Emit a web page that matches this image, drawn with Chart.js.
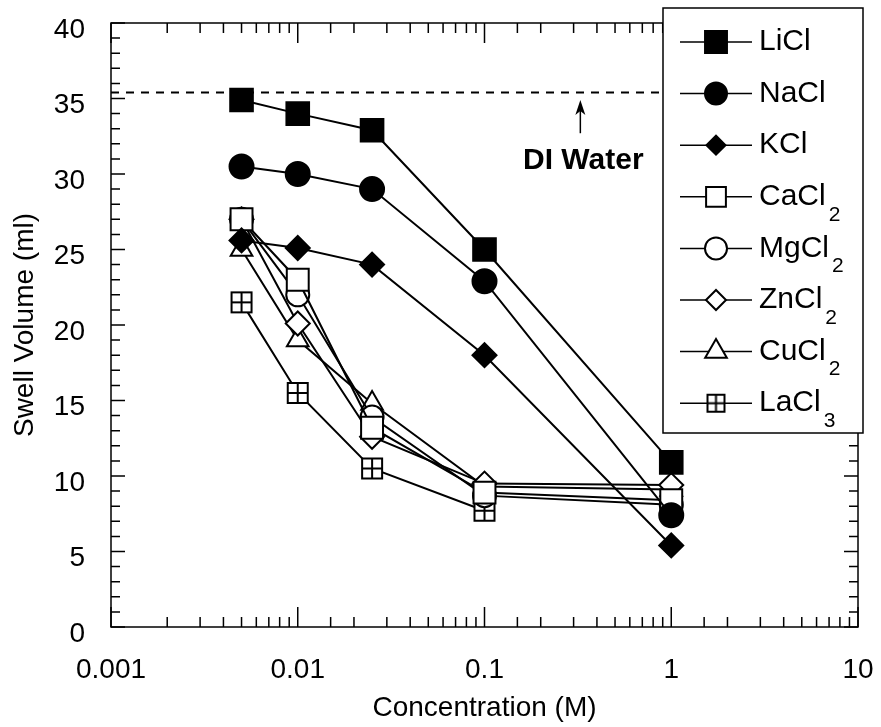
<!DOCTYPE html>
<html>
<head>
<meta charset="utf-8">
<script src="https://cdn.jsdelivr.net/npm/chart.js@4.4.0/dist/chart.umd.min.js"></script>
<style>
  body { margin: 0; background: #fff; }
  #wrap { width: 881px; height: 727px; }
</style>
</head>
<body>
<div id="wrap"><canvas id="swellChart" width="881" height="727"></canvas></div>
<script>
// concentrations (M) on the x axis
const concentrations = [0.005, 0.01, 0.025, 0.1, 1];

// swell volume (ml) per salt
const liCl = [34.9, 34.0, 32.9, 25.0, 10.9];
const naCl = [30.5, 30.0, 29.0, 22.9, 7.4];
const kCl = [25.6, 25.1, 24.0, 18.0, 5.4];
const caCl2 = [27.0, 23.0, 13.2, 8.9, 8.4];
const mgCl2 = [27.0, 22.0, 13.9, 8.7, 8.1];
const znCl2 = [27.0, 20.1, 12.6, 9.5, 9.4];
const cuCl2 = [25.0, 19.0, 14.8, 9.3, 9.1];
const laCl3 = [21.5, 15.5, 10.5, 7.7];

const saltLabels = ['LiCl', 'NaCl', 'KCl', 'CaCl2', 'MgCl2', 'ZnCl2', 'CuCl2', 'LaCl3'];
const xTickLabels = ['0.001', '0.01', '0.1', '1', '10'];

// DI water reference
const diWaterLevel = 35.4;
const diArrowX = 0.326;
const diArrowFrom = 32.7;
const diArrowTo = 34.9;
const diLabelX = 0.338;
const diLabelY = 30.9;

const FONT = "'Liberation Sans', Arial, sans-serif";

// open square with a cross for LaCl3
function makeCrossSquare(side) {
  const cv = document.createElement('canvas');
  cv.width = side + 4;
  cv.height = side + 4;
  const c = cv.getContext('2d');
  const o = 2, m = 2 + side / 2;
  c.fillStyle = '#fff';
  c.fillRect(o, o, side, side);
  c.strokeStyle = '#000';
  c.lineWidth = 2;
  c.strokeRect(o, o, side, side);
  c.beginPath();
  c.moveTo(m, o); c.lineTo(m, o + side);
  c.moveTo(o, m); c.lineTo(o + side, m);
  c.stroke();
  return cv;
}
const crossSquare = makeCrossSquare(20);
const crossSquareSmall = makeCrossSquare(17);

const markerStyles = [
  { pointStyle: 'rect', radius: 16, fill: '#000' },
  { pointStyle: 'circle', radius: 12, fill: '#000' },
  { pointStyle: 'rectRot', radius: 12, fill: '#000' },
  { pointStyle: 'rect', radius: 15.5, fill: '#fff' },
  { pointStyle: 'circle', radius: 11.5, fill: '#fff' },
  { pointStyle: 'rectRot', radius: 12, fill: '#fff' },
  { pointStyle: 'triangle', radius: 12.5, fill: '#fff' },
  { pointStyle: crossSquare, radius: 12, fill: '#fff' },
];
const legendMarkers = [
  { pointStyle: 'rect', radius: 15.5 },
  { pointStyle: 'circle', radius: 11 },
  { pointStyle: 'rectRot', radius: 9.5 },
  { pointStyle: 'rect', radius: 14 },
  { pointStyle: 'circle', radius: 11 },
  { pointStyle: 'rectRot', radius: 10 },
  { pointStyle: 'triangle', radius: 12.5 },
  { pointStyle: crossSquareSmall, radius: 10 },
];

const seriesValues = [liCl, naCl, kCl, caCl2, mgCl2, znCl2, cuCl2, laCl3];

const datasets = seriesValues.map((vals, i) => ({
  label: saltLabels[i],
  data: vals.map((v, j) => ({ x: concentrations[j], y: v })),
  showLine: true,
  borderColor: '#000',
  borderWidth: 2,
  pointStyle: markerStyles[i].pointStyle,
  pointRadius: markerStyles[i].radius,
  pointBackgroundColor: markerStyles[i].fill,
  pointBorderColor: '#000',
  pointBorderWidth: 2,
  tension: 0,
}));

// dashed DI water line
datasets.unshift({
  label: 'DI Water',
  data: [{ x: 0.001, y: diWaterLevel }, { x: 10, y: diWaterLevel }],
  showLine: true,
  borderColor: '#000',
  borderWidth: 2,
  borderDash: [8, 7],
  pointRadius: 0,
});

// frame, inward ticks, DI annotation and the legend box
const framePlugin = {
  id: 'frame',
  afterDraw(chart) {
    const ctx = chart.ctx;
    const a = chart.chartArea;
    const xs = chart.scales.x;
    const ys = chart.scales.y;
    ctx.save();
    ctx.strokeStyle = '#000';
    ctx.lineWidth = 1.5;
    ctx.strokeRect(a.left, a.top, a.right - a.left, a.bottom - a.top);

    ctx.beginPath();
    xs.ticks.forEach(t => {
      const px = xs.getPixelForValue(t.value);
      const lg = Math.log10(t.value);
      const len = Math.abs(lg - Math.round(lg)) < 1e-6 ? 20 : 10;
      ctx.moveTo(px, a.bottom); ctx.lineTo(px, a.bottom - len);
      ctx.moveTo(px, a.top); ctx.lineTo(px, a.top + len);
    });
    for (let v = 0; v <= 40; v++) {
      const py = ys.getPixelForValue(v);
      const len = v % 5 === 0 ? 14 : 9;
      ctx.moveTo(a.left, py); ctx.lineTo(a.left + len, py);
      ctx.moveTo(a.right, py); ctx.lineTo(a.right - len, py);
    }
    ctx.stroke();

    // DI water arrow and label
    const ax = xs.getPixelForValue(diArrowX);
    const ay0 = ys.getPixelForValue(diArrowFrom);
    const ay1 = ys.getPixelForValue(diArrowTo);
    ctx.lineWidth = 1.5;
    ctx.beginPath();
    ctx.moveTo(ax, ay0); ctx.lineTo(ax, ay1 + 8);
    ctx.stroke();
    ctx.fillStyle = '#000';
    ctx.beginPath();
    ctx.moveTo(ax, ay1);
    ctx.lineTo(ax - 5, ay1 + 15);
    ctx.lineTo(ax, ay1 + 11);
    ctx.lineTo(ax + 5, ay1 + 15);
    ctx.closePath();
    ctx.fill();
    ctx.font = 'bold 30px ' + FONT;
    ctx.textAlign = 'center';
    ctx.textBaseline = 'middle';
    ctx.fillText('DI Water', xs.getPixelForValue(diLabelX), ys.getPixelForValue(diLabelY));

    // legend
    const lx = 663, ly = 8, lw = 200, lh = 425;
    ctx.fillStyle = '#fff';
    ctx.fillRect(lx, ly, lw, lh);
    ctx.strokeStyle = '#000';
    ctx.lineWidth = 1.5;
    ctx.strokeRect(lx, ly, lw, lh);
    saltLabels.forEach((name, i) => {
      const cy = 42 + i * 51.6;
      ctx.strokeStyle = '#000';
      ctx.lineWidth = 1.5;
      ctx.beginPath();
      ctx.moveTo(680, cy); ctx.lineTo(752, cy);
      ctx.stroke();
      const m = legendMarkers[i];
      ctx.fillStyle = markerStyles[i].fill;
      ctx.lineWidth = 2;
      Chart.helpers.drawPoint(ctx, {
        pointStyle: m.pointStyle,
        radius: m.radius,
        borderWidth: 2,
        rotation: 0,
      }, 716, cy);
      const match = name.match(/^(.*?)(\d)$/);
      ctx.fillStyle = '#000';
      ctx.textAlign = 'left';
      ctx.textBaseline = 'middle';
      ctx.font = '30px ' + FONT;
      const base = match ? match[1] : name;
      ctx.fillText(base, 759, cy);
      if (match) {
        const w = ctx.measureText(base).width;
        ctx.font = '21px ' + FONT;
        ctx.fillText(match[2], 759 + w + 3, cy + 18);
      }
    });
    ctx.restore();
  },
};

new Chart(document.getElementById('swellChart'), {
  type: 'scatter',
  data: { datasets },
  options: {
    responsive: false,
    animation: false,
    layout: { padding: { top: 23, right: 23, left: 0, bottom: 0 } },
    plugins: { legend: { display: false }, tooltip: { enabled: false } },
    scales: {
      x: {
        type: 'logarithmic',
        min: 0.001,
        max: 10,
        afterFit(scale) {
          scale.height = 100;
          scale.paddingLeft = 0;
          scale.paddingRight = 0;
        },
        grid: { display: false, drawTicks: false },
        border: { display: false },
        ticks: {
          autoSkip: false,
          maxRotation: 0,
          padding: 26,
          color: '#000',
          font: { family: FONT, size: 28 },
          callback(v) {
            const lg = Math.log10(v);
            return Math.abs(lg - Math.round(lg)) < 1e-6 ? xTickLabels[Math.round(lg) + 3] : '';
          },
        },
        title: {
          display: true,
          text: 'Concentration (M)',
          color: '#000',
          font: { family: FONT, size: 28 },
          padding: { top: 0, bottom: 2 },
        },
      },
      y: {
        min: 0,
        max: 40,
        afterFit(scale) {
          scale.width = 111;
          scale.paddingTop = 0;
          scale.paddingBottom = 0;
        },
        grid: { display: false, drawTicks: false },
        border: { display: false },
        ticks: {
          stepSize: 5,
          padding: 26,
          labelOffset: 7,
          color: '#000',
          font: { family: FONT, size: 28 },
        },
        title: {
          display: true,
          text: 'Swell Volume (ml)',
          color: '#000',
          font: { family: FONT, size: 28 },
          padding: { top: 8, bottom: 0 },
        },
      },
    },
  },
  plugins: [framePlugin],
});
</script>
</body>
</html>
